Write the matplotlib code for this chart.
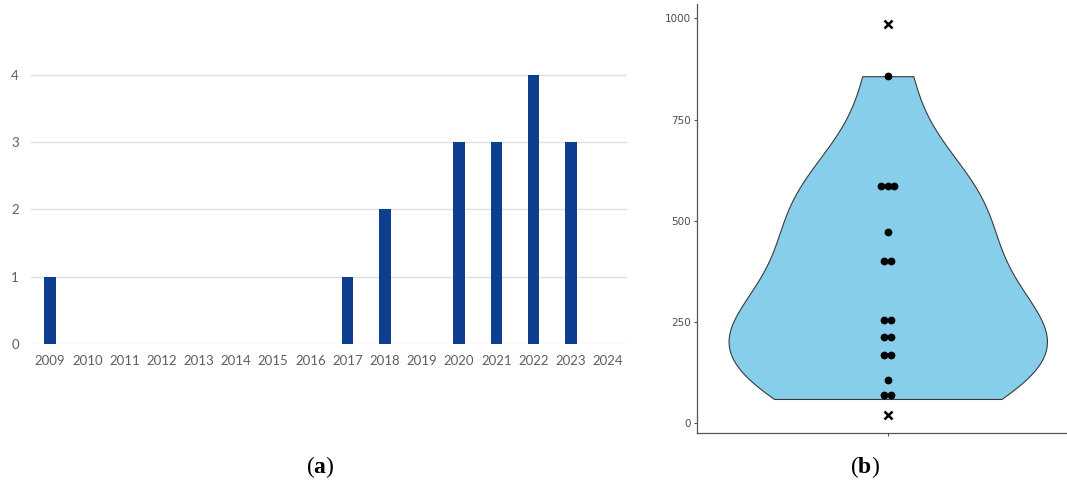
import matplotlib.pyplot as plt
import numpy as np

plt.rcParams['mathtext.fontset'] = 'custom'
plt.rcParams['mathtext.rm'] = 'Liberation Serif'
plt.rcParams['mathtext.bf'] = 'Liberation Serif:bold'

# (a) publications per year
years = ['2009', '2010', '2011', '2012', '2013', '2014', '2015', '2016',
         '2017', '2018', '2019', '2020', '2021', '2022', '2023', '2024']
counts = [1, 0, 0, 0, 0, 0, 0, 0, 1, 2, 0, 3, 3, 4, 3, 0]

# (b) sample values shown as dots, plus the two excluded points
dot_vals = [857, 585, 585, 585, 473, 400, 400, 255, 255,
            213, 213, 168, 168, 108, 70, 70]
violin_vals = [857, 585, 585, 585, 473, 400, 400, 255, 255,
               213, 213, 168, 168, 108, 80, 60]
excluded = [986, 21]

fig = plt.figure(figsize=(10.67, 4.87), dpi=100)

# ---- left: bar chart
ax1 = fig.add_axes([0.0295, 0.2936, 0.5577, 0.6222])
x = np.arange(len(years))
ax1.bar(x, counts, width=0.31, color='#0e3f8f', zorder=3)
ax1.set_xlim(-0.5, len(years) - 0.5)
ax1.set_ylim(0, 4.5)
ax1.set_yticks([0, 1, 2, 3, 4])
ax1.set_xticks(x)
ax1.set_xticklabels(years)
ax1.grid(axis='y', color='#e0e0e0', linewidth=1, zorder=0)
for s in ax1.spines.values():
    s.set_visible(False)
ax1.tick_params(axis='both', length=0, labelsize=9.5, labelcolor='#5f5f5f')
ax1.tick_params(axis='x', pad=8)
ax1.tick_params(axis='y', pad=9)
for lab in ax1.get_xticklabels() + ax1.get_yticklabels():
    lab.set_fontfamily('Lato')

# ---- right: violin with dots
ax2 = fig.add_axes([0.653, 0.1103, 0.347, 0.8815])
vals = np.array(violin_vals, dtype=float)
sd = vals.std(ddof=1)
q1, q3 = np.percentile(vals, [25, 75])
bw = 0.9 * min(sd, (q3 - q1) / 1.34) * len(vals) ** -0.2 * 1.12
vp = ax2.violinplot(vals, positions=[1], widths=1.0, showextrema=False,
                    bw_method=bw / sd, points=300)
for body in vp['bodies']:
    body.set_facecolor('#87ceeb')
    body.set_edgecolor('#3a3a3a')
    body.set_linewidth(0.8)
    body.set_alpha(1)

# dots stacked side by side for repeated values
spacing = 0.021
uniq, cnt = np.unique(dot_vals, return_counts=True)
for v, k in zip(uniq, cnt):
    offs = (np.arange(k) - (k - 1) / 2) * spacing
    ax2.plot(1 + offs, [v] * k, 'o', color='black', markersize=5.6,
             markeredgewidth=0, zorder=4)
ax2.plot([1] * len(excluded), excluded, 'x', color='black',
         markersize=6, markeredgewidth=1.8, zorder=4)

ax2.set_xlim(0.4, 1.563)
ax2.set_ylim(-24.7, 1035.3)
ax2.set_yticks([0, 250, 500, 750, 1000])
ax2.set_xticks([1])
ax2.set_xticklabels([''])
ax2.spines['top'].set_visible(False)
ax2.spines['right'].set_visible(False)
for s in ['left', 'bottom']:
    ax2.spines[s].set_color('#555555')
    ax2.spines[s].set_linewidth(0.9)
ax2.tick_params(axis='both', length=2.4, width=0.8, color='#555555',
                labelsize=7.5, labelcolor='#4d4d4d', pad=2)

# panel labels
fig.text(0.300, 0.041, '($\\mathbf{a}$)', ha='center', va='center',
         fontsize=17, fontfamily='Liberation Serif')
fig.text(0.8107, 0.041, '($\\mathbf{b}$)', ha='center', va='center',
         fontsize=17, fontfamily='Liberation Serif')

fig.savefig('out.png', dpi=100)
